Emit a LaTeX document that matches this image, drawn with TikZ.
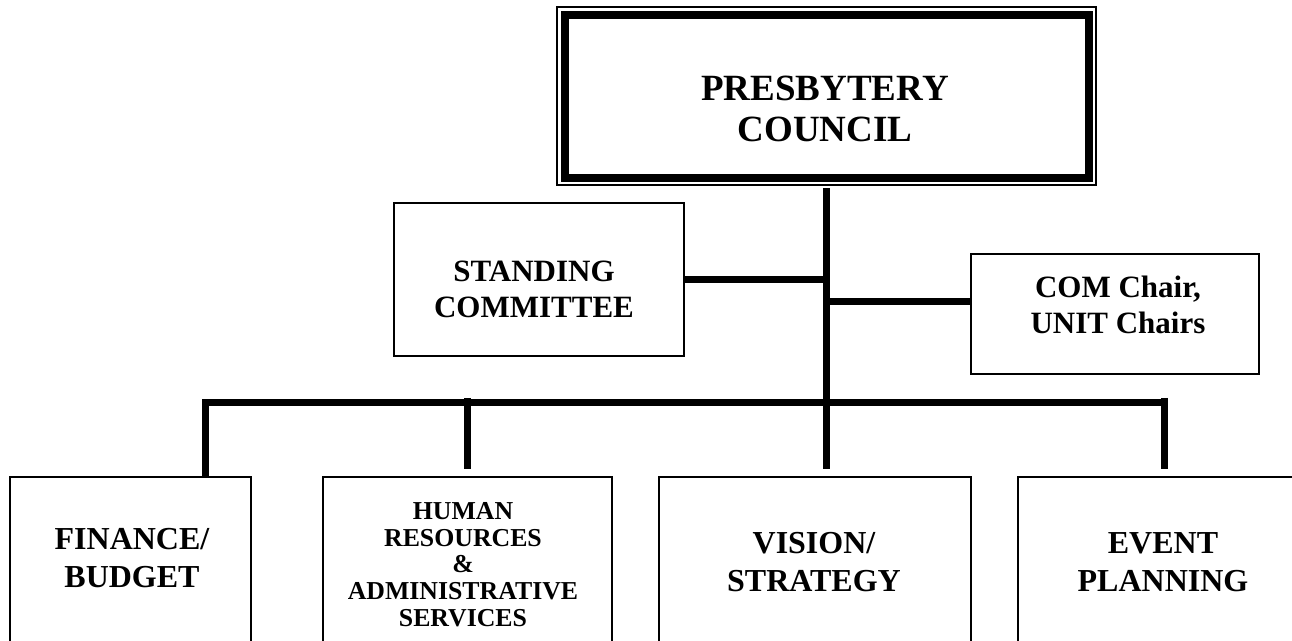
\documentclass[tikz,border=0pt]{standalone}
\usepackage{fontspec}
\setmainfont{Liberation Serif}
\usetikzlibrary{calc}

\tikzset{
    box/.style={draw, line width=1pt, outer sep=0pt, inner sep=0pt},
    link/.style={line width=3.5pt},
    topTxt/.style={align=center, inner sep=0pt, font=\bfseries\fontsize{18.5}{20.5}\selectfont},
    midTxt/.style={align=center, inner sep=0pt, font=\bfseries\fontsize{15.5}{18}\selectfont},
    lowTxt/.style={align=center, inner sep=0pt, font=\bfseries\fontsize{16}{19}\selectfont},
    smallTxt/.style={align=center, inner sep=0pt, font=\bfseries\fontsize{12.9}{13.4}\selectfont}
}

\begin{document}
\begin{tikzpicture}[x=0.5pt,y=-0.5pt]
    \useasboundingbox (0,0) rectangle (1292,641);
    \clip (0,0) rectangle (1292,641);

    % council box, thick frame with thin outer line
    \node[box, line width=4pt, minimum width=262pt, minimum height=81.5pt] (council) at (827,97) {};
    \draw[line width=0.75pt] ([shift={(-8,-8.5)}]council.north west) rectangle ([shift={(7,6.5)}]council.south east);

    \node[box, minimum width=145pt, minimum height=76.5pt] (standing) at (539,279.5) {};
    \node[box, minimum width=144pt, minimum height=60pt] (com) at (1115,314) {};

    % bottom row runs off the page
    \node[box, minimum width=120.5pt, minimum height=121.5pt] (finance) at (130.5,598.5) {};
    \node[box, minimum width=144.5pt, minimum height=121.5pt] (hr) at (467.5,598.5) {};
    \node[box, minimum width=156pt, minimum height=121.5pt] (vision) at (815,598.5) {};
    \node[box, minimum width=146pt, minimum height=121.5pt] (event) at (1164,598.5) {};

    \node[topTxt] (councilTxt) at (825,109) {PRESBYTERY\\COUNCIL};
    \node[midTxt] (standingTxt) at (534,289) {STANDING\\COMMITTEE};
    \node[midTxt] (comTxt) at (1118,305) {COM Chair,\\UNIT Chairs};
    \node[lowTxt] (financeTxt) at (132,558) {FINANCE/\\BUDGET};
    \node[smallTxt] (hrTxt) at (463,564.5) {HUMAN\\RESOURCES\\\&\\ADMINISTRATIVE\\SERVICES};
    \node[lowTxt] (visionTxt) at (814,562) {VISION/\\STRATEGY};
    \node[lowTxt] (eventTxt) at (1163,562) {EVENT\\PLANNING};

    \coordinate (trunk) at ([shift={(-1,10)}]council.south);
    \coordinate (busL) at (205,403);
    \coordinate (comIn) at ([shift={(0,-12)}]com.west);

    \draw[link] (trunk) -- ([shift={(0,-8)}]trunk |- vision.north);
    \draw[link] (standing.east) -- (standing.east -| trunk);
    \draw[link] (comIn) -- (comIn -| trunk);
    \draw[link] (busL -| event.north) -- (busL) -- (busL |- finance.north);
    \draw[link] ([shift={(0,-5)}]busL -| hr.north) -- ([shift={(0,-8)}]hr.north);
    \draw[link] ([shift={(0,-5)}]busL -| event.north) -- ([shift={(0,-8)}]event.north);
\end{tikzpicture}
\end{document}
